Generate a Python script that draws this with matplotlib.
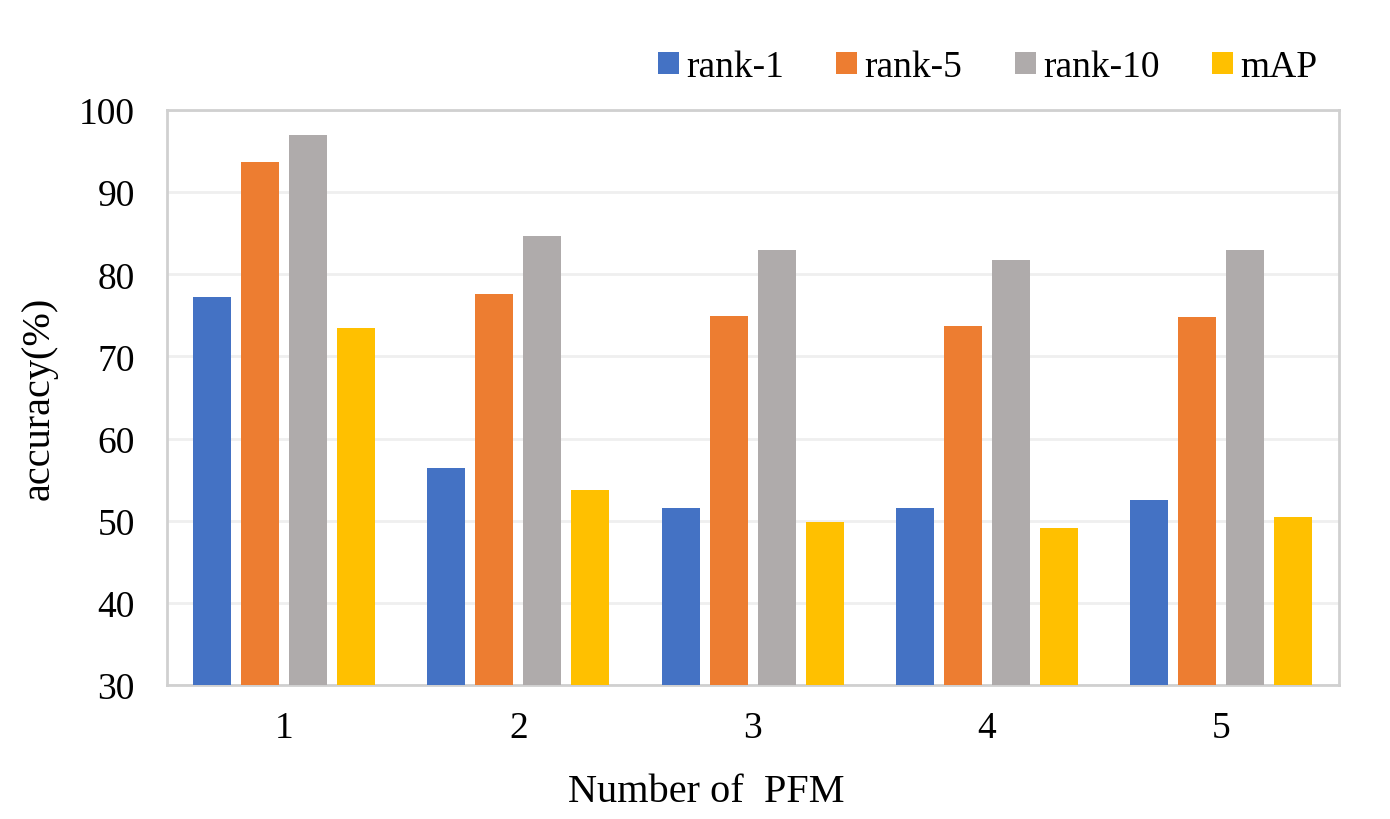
import numpy as np
import matplotlib.pyplot as plt

plt.rcParams.update({
    "font.family": ["Liberation Serif", "DejaVu Serif"],
    "font.size": 27,
})

groups = ["1", "2", "3", "4", "5"]
series = ["rank-1", "rank-5", "rank-10", "mAP"]
rank1 = [77.2, 56.4, 51.5, 51.6, 52.5]
rank5 = [93.7, 77.6, 74.95, 73.65, 74.8]
rank10 = [97.0, 84.7, 82.95, 81.8, 83.0]
mAP = [73.5, 53.8, 49.8, 49.1, 50.45]
colors = ["#4472C4", "#ED7D31", "#AFABAB", "#FFC000"]

fig = plt.figure(figsize=(13.9, 8.2), dpi=100)
ax = fig.add_axes([0.120, 0.1634, 0.843, 0.7012])

x = np.arange(len(groups))
pitch = 0.205
w = 0.162
for k, (vals, lbl, c) in enumerate(zip([rank1, rank5, rank10, mAP], series, colors)):
    ax.bar(x + (k - 1.5) * pitch, np.array(vals) - 30, w, bottom=30,
           color=c, label=lbl, zorder=3)

ax.set_xlim(-0.5, len(groups) - 0.5)
ax.set_ylim(30, 100)
ax.set_yticks(range(30, 101, 10))
ax.set_xticks(x)
ax.set_xticklabels(groups)
ax.tick_params(axis="x", length=0, pad=18)
ax.tick_params(axis="y", length=0, pad=23)
ax.grid(axis="y", color="#EFEFEF", lw=2, zorder=0)
for s in ax.spines.values():
    s.set_color("#D0D0D0")
    s.set_linewidth(2)

# the x title sits a little left of the axis centre in the original
ax.set_xlabel("Number of  PFM", fontsize=29)
ax.xaxis.set_label_coords(0.46, -0.153)
ax.set_ylabel("accuracy(%)", fontsize=29, labelpad=15)

fig.legend(loc="center right", bbox_to_anchor=(0.972, 0.917), ncol=4,
           frameon=False, handlelength=0.55, handleheight=0.55,
           handletextpad=0.2, columnspacing=1.4, fontsize=27)

fig.savefig("out.png", dpi=100)
